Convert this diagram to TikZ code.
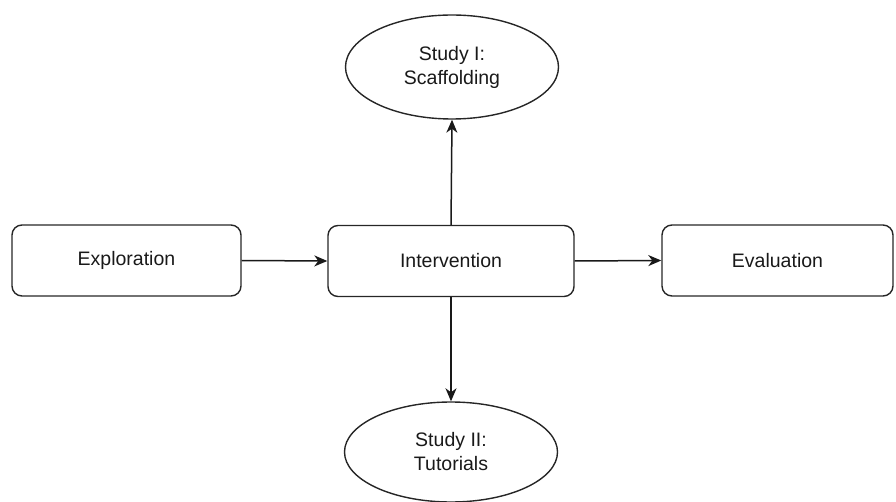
\documentclass[tikz,border=0pt]{standalone}
\usepackage{fontspec}
\setmainfont{Liberation Sans}
\usetikzlibrary{shapes.geometric,arrows.meta}
\begin{document}
\begin{tikzpicture}[x=1pt,y=-1pt,
  every node/.style={font=\fontsize{19.5}{24}\selectfont, text=black!90, align=center, inner sep=0pt},
  procbox/.style={draw=black!85, line width=1.4pt, rounded corners=10pt, minimum height=71pt},
  studyell/.style={ellipse, draw=black!85, line width=1.4pt, minimum width=213pt, minimum height=104pt},
  conn/.style={draw=black!90, line width=1.5pt, -{Stealth[length=13pt,width=11pt,inset=4pt]}}]
\useasboundingbox (0,0) rectangle (896,502);
\node[procbox, minimum width=229pt] (expl) at (126.5,260.5) {Exploration};
\node[procbox, minimum width=246pt] (inter) at (451,261) {Intervention};
\node[procbox, minimum width=231pt] (eval) at (777.5,260.5) {Evaluation};
\node[studyell] (s1) at (452,67) {Study I:\\Scaffolding};
\node[studyell, minimum height=100pt] (s2) at (451,452) {Study II:\\Tutorials};
\draw[conn] (expl.east) -- (inter.west);
\draw[conn] (inter.east) -- (eval.west);
\draw[conn] (inter.north) -- (s1.south);
\draw[conn] (inter.south) -- (s2.north);
\end{tikzpicture}
\end{document}
